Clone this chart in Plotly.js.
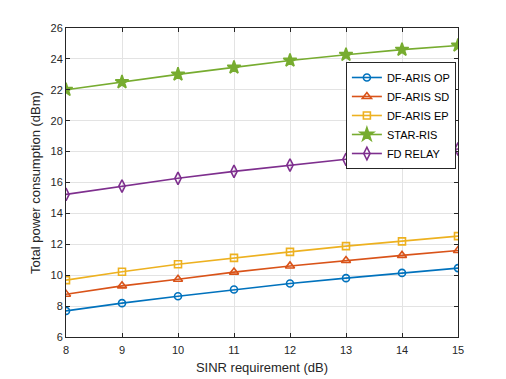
<!DOCTYPE html>
<html>
<head>
<meta charset="utf-8">
<script src="https://cdn.plot.ly/plotly-3.0.1.min.js"></script>
<style>
  html, body { margin: 0; padding: 0; background: #fff; }
  #chart { width: 506px; height: 379px; }
</style>
</head>
<body>
<div id="chart"></div>
<script>
// SINR requirement (dB)
const sinr = [8, 9, 10, 11, 12, 13, 14, 15];

// Total power consumption (dBm) per scheme
const dfArisOp = [7.69, 8.19, 8.64, 9.07, 9.46, 9.81, 10.15, 10.46];
const dfArisSd = [8.77, 9.31, 9.74, 10.2, 10.6, 10.95, 11.28, 11.6];
const dfArisEp = [9.68, 10.22, 10.71, 11.12, 11.51, 11.88, 12.19, 12.53];
const starRis = [22.0, 22.5, 23.0, 23.45, 23.9, 24.27, 24.6, 24.87];
const fdRelay = [15.23, 15.77, 16.27, 16.72, 17.13, 17.5, 17.85, 18.17];

const names = ['DF-ARIS OP', 'DF-ARIS SD', 'DF-ARIS EP', 'STAR-RIS', 'FD RELAY'];
const yTicks = [6, 8, 10, 12, 14, 16, 18, 20, 22, 24, 26];

const series = [
    { y: dfArisOp, color: '#0072BD', symbol: 'circle-open', size: 7 },
    { y: dfArisSd, color: '#D95319', symbol: 'triangle-up-open', size: 8 },
    { y: dfArisEp, color: '#EDB120', symbol: 'square-open', size: 7 },
    { y: starRis, color: '#77AC30', symbol: 'star', size: 10 },
    { y: fdRelay, color: '#7E2F8E', symbol: 'diamond-tall-open', size: 9 },
];

const traces = series.map((s, i) => ({
    x: sinr,
    y: s.y,
    name: names[i],
    type: 'scatter',
    mode: 'lines+markers',
    line: { color: s.color, width: 1.6 },
    marker: { symbol: s.symbol, size: s.size, color: s.color, line: { color: s.color, width: 1.6 } },
}));

const font = 'Liberation Sans, Arial, sans-serif';

const axisCommon = {
    showline: true,
    linecolor: '#262626',
    linewidth: 1,
    mirror: 'ticks',
    ticks: 'inside',
    ticklen: 4,
    tickcolor: '#262626',
    showgrid: true,
    gridcolor: '#e3e3e3',
    zeroline: false,
    tickfont: { family: font, size: 11, color: '#262626' },
};

const layout = {
    width: 506,
    height: 379,
    paper_bgcolor: '#fff',
    plot_bgcolor: '#fff',
    margin: { l: 66, r: 48, t: 28, b: 42 },
    showlegend: true,
    legend: {
        x: 0.714,
        y: 0.89,
        xanchor: 'left',
        yanchor: 'top',
        bgcolor: '#fff',
        bordercolor: '#262626',
        borderwidth: 1,
        font: { family: font, size: 11, color: '#000' },
        tracegroupgap: 0,
    },
    xaxis: Object.assign({}, axisCommon, {
        range: [8, 15],
        tickvals: sinr,
        ticklabelstandoff: 3,
        title: { text: 'SINR requirement (dB)', standoff: 7,
            font: { family: font, size: 13, color: '#262626' } },
    }),
    yaxis: Object.assign({}, axisCommon, {
        range: [6, 26],
        tickvals: yTicks,
        title: { text: 'Total power consumption (dBm)', standoff: 6,
            font: { family: font, size: 13, color: '#262626' } },
    }),
};

Plotly.newPlot('chart', traces, layout, { displayModeBar: false, responsive: false });
</script>
</body>
</html>
